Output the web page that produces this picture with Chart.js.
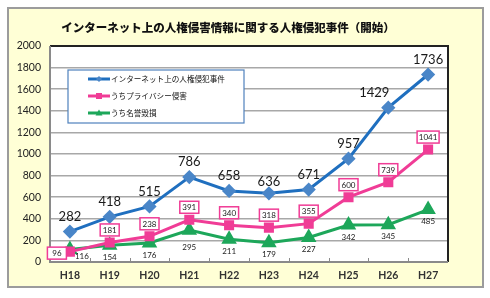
<!DOCTYPE html>
<html>
<head>
<meta charset="utf-8">
<script src="https://cdn.jsdelivr.net/npm/chart.js@4/dist/chart.umd.min.js"></script>
<style>
  body { margin: 0; background: #fff; }
  #panel { position: absolute; left: 7px; top: 7px; width: 473px; height: 277px;
           background: #FFFFD6; border: 2px solid #9c9c9c; }
  #wrap { position: absolute; left: 0; top: 0; width: 490px; height: 298px; }
</style>
</head>
<body>
<div id="panel"></div>
<div id="wrap"><canvas id="chart" width="490" height="298"></canvas></div>
<script>
const years = ["H18", "H19", "H20", "H21", "H22", "H23", "H24", "H25", "H26", "H27"];
const total = [282, 418, 515, 786, 658, 636, 671, 957, 1429, 1736];
const privacy = [96, 181, 238, 391, 340, 318, 355, 600, 739, 1041];
const defamation = [116, 154, 176, 295, 211, 179, 227, 342, 345, 485];
const names = ["インターネット上の人権侵犯事件", "うちプライバシー侵害", "うち名誉毀損"];
const title = "インターネット上の人権侵害情報に関する人権侵犯事件（開始）";

const jp = '"Noto Sans CJK JP", sans-serif';
const num = 'Lato, "Noto Sans", sans-serif';

// draws white plot area, frame, title, legend box and point labels
const decor = {
    id: "decor",
    beforeDraw(chart) {
        const a = chart.chartArea, c = chart.ctx;
        c.save();
        c.fillStyle = "#fff";
        c.fillRect(a.left, a.top, a.right - a.left, a.bottom - a.top);
        c.restore();
    },
    beforeDatasetsDraw(chart) {
        const a = chart.chartArea, c = chart.ctx, xs = chart.scales.x;
        c.save();
        c.strokeStyle = "#222";
        c.lineWidth = 2;
        c.beginPath();
        c.moveTo(a.left, a.top);
        c.lineTo(a.right, a.top);
        c.lineTo(a.right, a.bottom);
        c.stroke();
        c.strokeStyle = "#8a8a8a";
        c.beginPath();
        c.moveTo(a.left, a.top);
        c.lineTo(a.left, a.bottom);
        c.lineTo(a.right, a.bottom);
        c.stroke();
        // small category ticks pointing up
        c.lineWidth = 1;
        for (let i = 1; i < years.length; i++) {
            const x = Math.round((xs.getPixelForTick(i - 1) + xs.getPixelForTick(i)) / 2) + 0.5;
            c.beginPath();
            c.moveTo(x, a.bottom);
            c.lineTo(x, a.bottom - 4);
            c.stroke();
        }
        c.restore();
    },
    afterDraw(chart) {
        const c = chart.ctx;
        c.save();
        // title
        c.fillStyle = "#111";
        c.font = "900 11.5px " + jp;
        c.textAlign = "center";
        c.textBaseline = "middle";
        c.fillText(title, 228, 28);

        // legend
        c.fillStyle = "#fff";
        c.fillRect(68, 70, 176, 53);
        c.strokeStyle = "#4F81BD";
        c.lineWidth = 1.2;
        c.strokeRect(68, 70, 176, 53);
        chart.data.datasets.forEach((ds, i) => {
            const y = 79 + i * 17;
            c.strokeStyle = ds.borderColor;
            c.lineWidth = 3;
            c.beginPath();
            c.moveTo(88, y);
            c.lineTo(110, y);
            c.stroke();
            c.fillStyle = ds.pointBackgroundColor;
            c.beginPath();
            if (i === 0) { c.moveTo(99, y - 3); c.lineTo(102, y); c.lineTo(99, y + 3); c.lineTo(96, y); }
            else if (i === 1) { c.rect(96, y - 3, 6, 6); }
            else { c.moveTo(99, y - 3.5); c.lineTo(102.5, y + 2.5); c.lineTo(95.5, y + 2.5); }
            c.fill();
            c.fillStyle = "#111";
            c.font = "7.6px " + jp;
            c.textAlign = "left";
            c.fillText(ds.label, 111, y);
        });

        // point labels
        c.textAlign = "center";
        c.textBaseline = "middle";
        const m0 = chart.getDatasetMeta(0).data;
        c.font = "13px " + num;
        c.fillStyle = "#1a1a1a";
        m0.forEach((p, i) => {
            const dx = i === 8 ? -14 : 0;
            const dy = i === 5 ? -11 : -15;
            c.fillText(total[i], p.x + dx, p.y + dy);
        });

        const m1 = chart.getDatasetMeta(1).data;
        c.font = "8px " + num;
        m1.forEach((p, i) => {
            let x = p.x, y = p.y - 12.5;
            if (i === 0) { x = p.x - 13; y = p.y + 1.5; }
            const w = i === 9 ? 22 : 19, h = 12;
            c.fillStyle = "#fff";
            c.fillRect(x - w / 2, y - h / 2, w, h);
            c.strokeStyle = "#F03C96";
            c.lineWidth = 1.5;
            c.strokeRect(x - w / 2, y - h / 2, w, h);
            c.fillStyle = "#1a1a1a";
            c.fillText(privacy[i], x, y + 0.5);
        });

        const m2 = chart.getDatasetMeta(2).data;
        m2.forEach((p, i) => {
            let x = p.x, y = p.y + 12;
            if (i === 0) { x = p.x + 12; y = p.y + 7; }
            if (i === 3) y = p.y + 17;
            c.fillText(defamation[i], x, y);
        });
        c.restore();
    }
};

new Chart(document.getElementById("chart"), {
    type: "line",
    data: {
        labels: years,
        datasets: [{
            label: names[0],
            data: total,
            borderColor: "#1F6FBF",
            backgroundColor: "#4A86C8",
            pointBackgroundColor: "#4A86C8",
            pointBorderColor: "#4A86C8",
            pointStyle: "rectRot",
            pointRadius: 5,
            borderWidth: 3,
            tension: 0
        }, {
            label: names[1],
            data: privacy,
            borderColor: "#F03C96",
            backgroundColor: "#F03C96",
            pointBackgroundColor: "#F03C96",
            pointBorderColor: "#F03C96",
            pointStyle: "rect",
            pointRadius: 5,
            borderWidth: 3,
            tension: 0
        }, {
            label: names[2],
            data: defamation,
            borderColor: "#1DA75A",
            backgroundColor: "#1DA75A",
            pointBackgroundColor: "#1DA75A",
            pointBorderColor: "#1DA75A",
            pointStyle: "triangle",
            pointRadius: 6,
            borderWidth: 3,
            tension: 0
        }]
    },
    options: {
        responsive: false,
        animation: false,
        layout: { padding: { left: 0, right: 42, top: 46, bottom: 0 } },
        plugins: { legend: { display: false }, title: { display: false }, tooltip: { enabled: false } },
        scales: {
            x: {
                offset: true,
                grid: { display: false, drawTicks: false },
                border: { display: false },
                ticks: { color: "#333", font: { family: num, size: 10.5, weight: "bold" }, padding: 7 },
                afterFit(s) { s.height = 36; }
            },
            y: {
                min: 0,
                max: 2000,
                ticks: { stepSize: 200, color: "#222", font: { family: num, size: 10.5 }, padding: 9,
                         callback: v => String(v) },
                grid: { color: "#a8a8a8", lineWidth: 1.5, drawTicks: false },
                border: { display: false },
                afterFit(s) { s.width = 50; }
            }
        }
    },
    plugins: [decor]
});
</script>
</body>
</html>
